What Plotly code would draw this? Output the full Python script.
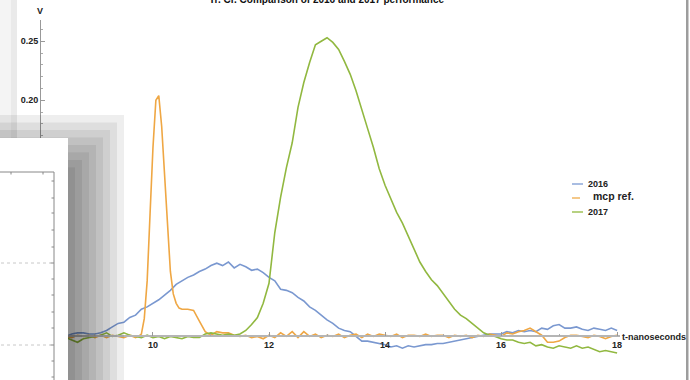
import plotly.graph_objects as go

# ---------------- data ----------------
title_text = "Tr. Cr. Comparison of 2016 and 2017 performance"
series_names = ["2016", "mcp ref.", "2017"]
series_colors = ["#7a98d0", "#efa744", "#91b840"]
legend_colors = ["#a9bde2", "#f4c889", "#b7d181"]

t_grid = [round(8.0 + 0.1 * i, 2) for i in range(101)]

v_2016 = [
    0.000, 0.001, -0.001, 0.000, 0.001, 0.000, 0.002, 0.003, 0.003, 0.002,
    0.002, 0.003, 0.005, 0.008, 0.011, 0.012, 0.016, 0.018, 0.023, 0.025,
    0.028, 0.031, 0.035, 0.039, 0.044, 0.047, 0.050, 0.052, 0.055, 0.057,
    0.060, 0.062, 0.060, 0.063, 0.058, 0.061, 0.059, 0.056, 0.057, 0.054,
    0.050, 0.047, 0.040, 0.039, 0.037, 0.033, 0.030, 0.025, 0.022, 0.018,
    0.014, 0.011, 0.007, 0.005, 0.004, 0.000, -0.004, -0.004, -0.005, -0.006,
    -0.007, -0.009, -0.008, -0.010, -0.008, -0.009, -0.008, -0.007, -0.007, -0.006,
    -0.006, -0.005, -0.004, -0.003, -0.002, -0.001, 0.000, 0.001, 0.002, 0.002,
    0.002, 0.004, 0.003, 0.005, 0.004, 0.005, 0.004, 0.007, 0.006, 0.009,
    0.010, 0.007, 0.007, 0.008, 0.006, 0.005, 0.007, 0.006, 0.005, 0.007,
    0.005,
]

v_2017 = [
    0.000, -0.001, 0.001, 0.000, -0.002, -0.001, -0.003, -0.005, -0.002, -0.001,
    0.000, 0.001, 0.003, 0.000, 0.001, 0.003, 0.001, 0.000, -0.001, 0.001,
    -0.001, 0.000, -0.002, 0.000, -0.001, -0.002, 0.000, -0.001, -0.001, 0.002,
    0.003, 0.002, 0.001, 0.002, 0.001, 0.002, 0.005, 0.010, 0.016, 0.028,
    0.045, 0.088, 0.118, 0.143, 0.164, 0.194, 0.215, 0.232, 0.247, 0.250,
    0.253, 0.249, 0.243, 0.233, 0.222, 0.208, 0.191, 0.176, 0.160, 0.142,
    0.128, 0.116, 0.105, 0.096, 0.085, 0.074, 0.063, 0.055, 0.048, 0.043,
    0.036, 0.029, 0.023, 0.018, 0.015, 0.011, 0.007, 0.003, 0.001, 0.000,
    -0.002, -0.003, -0.003, -0.005, -0.006, -0.005, -0.008, -0.007, -0.009, -0.010,
    -0.008, -0.009, -0.010, -0.008, -0.010, -0.009, -0.011, -0.013, -0.012, -0.013,
    -0.014,
]

t_mcp = [
    8.0, 8.1, 8.2, 8.3, 8.4, 8.5, 8.6, 8.7, 8.8, 8.9,
    9.0, 9.1, 9.2, 9.3, 9.4, 9.5, 9.6, 9.7, 9.75, 9.8,
    9.85, 9.9, 9.95, 10.0, 10.05, 10.1, 10.15, 10.2, 10.25, 10.3,
    10.35, 10.4, 10.45, 10.5, 10.6, 10.7, 10.8, 10.9, 11.0, 11.1,
    11.2, 11.3, 11.4, 11.5, 11.6, 11.7, 11.8, 11.9, 12.0, 12.1,
    12.2, 12.3, 12.4, 12.5, 12.6, 12.7, 12.8, 12.9, 13.0, 13.1,
    13.2, 13.3, 13.4, 13.5, 13.6, 13.7, 13.8, 13.9, 14.0, 14.1,
    14.2, 14.3, 14.4, 14.5, 14.6, 14.7, 14.8, 14.9, 15.0, 15.1,
    15.2, 15.3, 15.4, 15.5, 15.6, 15.7, 15.8, 15.9, 16.0, 16.1,
    16.2, 16.3, 16.4, 16.5, 16.6, 16.7, 16.8, 16.9, 17.0, 17.1,
    17.2, 17.3, 17.4, 17.5, 17.6, 17.7, 17.8, 17.9, 18.0,
]

v_mcp = [
    0.000, 0.001, -0.001, 0.000, 0.001, 0.000, -0.001, 0.001, 0.000, 0.001,
    -0.001, 0.001, -0.001, 0.001, 0.000, -0.001, 0.001, -0.001, 0.000, 0.002,
    0.015, 0.047, 0.104, 0.160, 0.200, 0.204, 0.178, 0.135, 0.095, 0.055,
    0.036, 0.028, 0.024, 0.023, 0.023, 0.022, 0.013, 0.004, 0.001, 0.004,
    0.003, 0.003, 0.001, 0.000, 0.001, -0.001, 0.000, -0.002, 0.001, -0.001,
    0.003, 0.000, 0.004, -0.001, 0.004, 0.000, 0.002, -0.001, 0.001, 0.000,
    0.002, -0.001, 0.001, 0.002, -0.001, 0.002, 0.000, 0.002, 0.001, 0.000,
    0.002, -0.001, 0.001, 0.001, 0.000, 0.002, 0.000, 0.001, 0.001, -0.001,
    0.001, 0.000, 0.001, -0.001, 0.001, 0.000, 0.002, 0.001, 0.000, 0.003,
    0.002, 0.004, 0.005, 0.007, 0.004, 0.001, -0.005, -0.005, -0.004, -0.001,
    0.001, 0.001, 0.000, -0.001, 0.001, 0.000, -0.002, 0.000, 0.001,
]

x_tick_vals = [8, 10, 12, 14, 16, 18]
x_minor_vals = [9, 11, 13, 15, 17]
y_tick_vals = [0.0, 0.05, 0.10, 0.15, 0.20, 0.25]

# ---------------- layout geometry ----------------
W, H = 690, 380
L, R, T, B = 41, 70, 20, 20
PW, PH = W - L - R, H - T - B
x_range = [8.07, 18.05]
y_range = [-0.02, 0.268]
FONT = "Liberation Sans"


def px(x):
    return (x - L) / PW


def py(y):
    return (H - B - y) / PH


fig = go.Figure()
series = [(t_grid, v_2016), (t_mcp, v_mcp), (t_grid, v_2017)]
for (tt, vv), name, col in zip(series, series_names, series_colors):
    fig.add_trace(go.Scatter(x=tt, y=vv, mode="lines", name=name,
                             line=dict(color=col, width=1.6), showlegend=False))

zero_pos = (0 - y_range[0]) / (y_range[1] - y_range[0])

fig.update_layout(
    width=W, height=H,
    margin=dict(l=L, r=R, t=T, b=B),
    paper_bgcolor="white", plot_bgcolor="white",
    font=dict(family=FONT, size=9, color="#222"),
    xaxis=dict(range=x_range, showgrid=False, zeroline=False,
               showline=True, linecolor="#b5b5b5", linewidth=1.5,
               anchor="free", position=zero_pos,
               ticks="inside", ticklen=4, tickcolor="#999", tickwidth=1,
               tickvals=x_tick_vals, ticktext=[str(v) for v in x_tick_vals],
               tickfont=dict(family=FONT, size=9, color="#222", weight="bold"),
               minor=dict(tickvals=x_minor_vals, ticks="inside", ticklen=2,
                          tickcolor="#aaa")),
    yaxis=dict(range=y_range, showgrid=False, zeroline=False,
               showline=True, linecolor="#999", linewidth=1,
               ticks="inside", ticklen=4, tickcolor="#999",
               tickvals=y_tick_vals, tickformat=".2f",
               tickfont=dict(family=FONT, size=9, color="#222", weight="bold"),
               minor=dict(dtick=0.01, tick0=0, ticks="inside", ticklen=2,
                          tickcolor="#aaa")),
)

shapes = []
# faint gray strip at the top left (another window edge)
shapes.append(dict(type="rect", xref="paper", yref="paper", layer="above",
                   x0=px(-5), x1=px(17), y0=py(138), y1=py(-5),
                   fillcolor="rgba(0,0,0,0.045)", line=dict(width=0)))
shapes.append(dict(type="rect", xref="paper", yref="paper", layer="above",
                   x0=px(11), x1=px(17), y0=py(138), y1=py(-5),
                   fillcolor="rgba(0,0,0,0.04)", line=dict(width=0)))
# drop shadow of the overlapping window
for i in range(1, 9):
    shapes.append(dict(type="rect", xref="paper", yref="paper", layer="above",
                       x0=px(-5), x1=px(68 + 7 * i),
                       y0=py(385), y1=py(175 - 7.5 * i),
                       fillcolor="rgba(0,0,0,0.065)", line=dict(width=0)))
# the overlapping window itself
shapes.append(dict(type="rect", xref="paper", yref="paper", layer="above",
                   x0=px(-5), x1=px(68), y0=py(385), y1=py(138),
                   fillcolor="white", line=dict(width=0)))
# frame inside that window
shapes.append(dict(type="line", xref="paper", yref="paper", layer="above",
                   x0=px(54), x1=px(54), y0=py(172), y1=py(385),
                   line=dict(color="#888", width=1)))
shapes.append(dict(type="line", xref="paper", yref="paper", layer="above",
                   x0=px(-5), x1=px(54), y0=py(172), y1=py(172),
                   line=dict(color="#888", width=1)))
for yy in [181, 198, 213, 230, 247, 263, 279, 295, 312, 328, 345, 361, 377]:
    ln = 3.5 if yy in (263, 345) else 2.5
    shapes.append(dict(type="line", xref="paper", yref="paper", layer="above",
                       x0=px(54 - ln), x1=px(54), y0=py(yy), y1=py(yy),
                       line=dict(color="#888", width=1)))
for xx in [11, 43]:
    shapes.append(dict(type="line", xref="paper", yref="paper", layer="above",
                       x0=px(xx), x1=px(xx), y0=py(172), y1=py(174.5),
                       line=dict(color="#888", width=1)))
for yy in [263, 345]:
    shapes.append(dict(type="line", xref="paper", yref="paper", layer="above",
                       x0=px(-5), x1=px(51), y0=py(yy), y1=py(yy),
                       line=dict(color="#c8c8c8", width=1, dash="dot")))
# right window border
shapes.append(dict(type="rect", xref="paper", yref="paper", layer="above",
                   x0=px(686), x1=px(688.5), y0=py(385), y1=py(-5),
                   fillcolor="#9d9d9d", line=dict(width=0)))
# legend swatches
legend_y = [184, 198, 212]
legend_x1 = [583, 580, 583]
for yy, x1, col in zip(legend_y, legend_x1, legend_colors):
    shapes.append(dict(type="line", xref="paper", yref="paper", layer="above",
                       x0=px(572), x1=px(x1), y0=py(yy), y1=py(yy),
                       line=dict(color=col, width=2)))
fig.update_layout(shapes=shapes)

annotations = [
    dict(text=title_text, x=px(327), y=py(-1), xref="paper", yref="paper",
         xanchor="center", yanchor="middle", showarrow=False,
         font=dict(family=FONT, size=10, color="#111", weight="bold")),
    dict(text="V", x=px(40), y=py(11), xref="paper", yref="paper",
         xanchor="center", yanchor="middle", showarrow=False,
         font=dict(family=FONT, size=9, color="#222", weight="bold")),
    dict(text="t-nanoseconds", x=px(620), y=py(337), xref="paper", yref="paper",
         xanchor="left", yanchor="middle", showarrow=False,
         font=dict(family=FONT, size=9, color="#222", weight="bold")),
    dict(text=series_names[0], x=px(586), y=py(184), xref="paper", yref="paper",
         xanchor="left", yanchor="middle", showarrow=False,
         font=dict(family=FONT, size=9, color="#222", weight="bold")),
    dict(text=series_names[1], x=px(591), y=py(196), xref="paper", yref="paper",
         xanchor="left", yanchor="middle", showarrow=False,
         font=dict(family=FONT, size=10.5, color="#222", weight="bold")),
    dict(text=series_names[2], x=px(586), y=py(212), xref="paper", yref="paper",
         xanchor="left", yanchor="middle", showarrow=False,
         font=dict(family=FONT, size=9, color="#222", weight="bold")),
]
fig.update_layout(annotations=annotations)

fig.write_html("out.html")
